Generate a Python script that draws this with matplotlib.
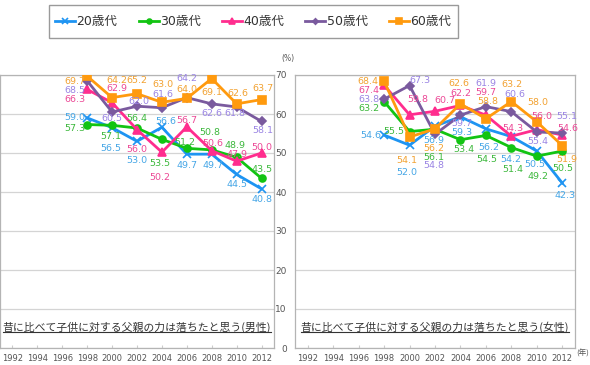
import matplotlib
matplotlib.use("Agg")
import matplotlib.pyplot as plt
from matplotlib.patches import Rectangle
from matplotlib.lines import Line2D

plt.rcParams['font.family'] = ['DejaVu Sans', 'Noto Sans CJK JP']

years = [1998, 2000, 2002, 2004, 2006, 2008, 2010, 2012]
groups = ['20歳代', '30歳代', '40歳代', '50歳代', '60歳代']

# 男性
male = {
    '20歳代': [59.0, 56.5, 53.0, 56.6, 49.7, 49.7, 44.5, 40.8],
    '30歳代': [57.3, 57.1, 56.4, 53.5, 51.2, 50.8, 48.9, 43.5],
    '40歳代': [66.3, 62.9, 56.0, 50.2, 56.7, 50.6, 47.9, 50.0],
    '50歳代': [68.5, 60.5, 62.0, 61.6, 64.2, 62.6, 61.8, 58.1],
    '60歳代': [69.7, 64.2, 65.2, 63.0, 64.0, 69.1, 62.6, 63.7],
}
# 女性
female = {
    '20歳代': [54.6, 52.0, 56.9, 59.3, 56.2, 54.2, 50.5, 42.3],
    '30歳代': [63.2, 55.5, 56.1, 53.4, 54.5, 51.4, 49.2, 50.5],
    '40歳代': [67.4, 59.8, 60.7, 62.2, 59.7, 54.3, 56.0, 54.6],
    '50歳代': [63.8, 67.3, 54.8, 59.7, 61.9, 60.6, 55.4, 55.1],
    '60歳代': [68.4, 54.1, 56.2, 62.6, 58.8, 63.2, 58.0, 51.9],
}

# label offsets in pixels (layout only)
male_off = {
    '20歳代': [(-12, 0), (-1, -21), (0, -19), (4, 6), (0, -11), (1, -11), (0, -10), (0, -11)],
    '30歳代': [(-12, -4), (-1, -11), (0, 10), (-2, -24), (-2, 6), (-2, 17), (-2, 12), (1, 9)],
    '40歳代': [(-12, -10), (5, 14), (0, -20), (-2, -25), (0, 6), (1, 7), (0, 7), (0, 5)],
    '50歳代': [(-12, -10), (0, -6), (2, 5), (1, 13), (0, 19), (0, -10), (-2, -7), (1, -9)],
    '60歳代': [(-12, -5), (5, 17), (0, 13), (1, 18), (0, 9), (0, -14), (1, 10), (1, 11)],
}
female_off = {
    '20歳代': [(-13, 0), (-3, -27), (-1, -14), (1, -16), (3, -19), (-1, -23), (-2, -13), (3, -12)],
    '30歳代': [(-15, -7), (-16, 0), (-1, -28), (3, -10), (1, -24), (1, -22), (1, -20), (1, -17)],
    '40歳代': [(-15, -5), (8, 15), (10, 11), (0, 12), (0, 23), (1, 8), (5, 13), (6, 7)],
    '50歳代': [(-15, 0), (10, 5), (-1, -31), (1, -8), (0, 23), (4, 17), (1, -10), (5, 17)],
    '60歳代': [(-16, 0), (-3, -23), (-1, -20), (-2, 20), (2, 17), (1, 17), (1, 19), (5, -14)],
}

line_colors = {'20歳代': '#1E94F2', '30歳代': '#12C412', '40歳代': '#FF2D8E',
               '50歳代': '#7A5A9E', '60歳代': '#FF9A0E'}
label_colors = {'20歳代': '#45A6E6', '30歳代': '#3CB83C', '40歳代': '#EC4896',
                '50歳代': '#9A84E4', '60歳代': '#F2A232'}
markers = {'20歳代': ('x', 6), '30歳代': ('o', 5), '40歳代': ('^', 6),
           '50歳代': ('D', 4), '60歳代': ('s', 6)}

W, H = 590, 365
fig = plt.figure(figsize=(W / 100, H / 100), dpi=100)

def px(x0, y0, x1, y1):
    return [x0 / W, 1 - y1 / H, (x1 - x0) / W, (y1 - y0) / H]

ax1 = fig.add_axes(px(0, 75, 274, 348))
ax2 = fig.add_axes(px(295, 75, 575, 348))

def draw(ax, data, offs, title):
    ax.set_xlim(1991, 2013)
    ax.set_ylim(0, 70)
    ax.set_yticks(range(0, 71, 10))
    ax.set_xticks(range(1992, 2013, 2))
    ax.grid(axis='y', color='#D4D4D4', linewidth=0.9)
    ax.set_axisbelow(True)
    for s in ax.spines.values():
        s.set_color('#B4B4B4')
        s.set_linewidth(0.9)
    ax.tick_params(axis='x', labelsize=6, colors='#555555', length=2, direction='in', pad=4)
    ax.tick_params(axis='x', color='#CCCCCC')
    for g in groups:
        m, ms = markers[g]
        ax.plot(years, data[g], color=line_colors[g], linewidth=2, marker=m,
                markersize=ms, markeredgewidth=1.2, label=g, zorder=3)
        for x, v, (dx, dy) in zip(years, data[g], offs[g]):
            ax.annotate(f'{v:.1f}', (x, v), xytext=(dx, dy), textcoords='offset pixels',
                        ha='center', va='center', fontsize=6.8, color=label_colors[g], zorder=4)
    t = ax.text(0.5, 0.075, title, transform=ax.transAxes, ha='center', va='center',
                fontsize=7.8, color='#333333', family=['Noto Sans CJK JP', 'DejaVu Sans'])
    return t

t1 = draw(ax1, male, male_off, '昔に比べて子供に対する父親の力は落ちたと思う(男性)')
t2 = draw(ax2, female, female_off, '昔に比べて子供に対する父親の力は落ちたと思う(女性)')

ax1.tick_params(axis='y', left=False, labelleft=False)
ax2.tick_params(axis='y', length=0, labelsize=6.5, colors='#555555', pad=6)

fig.text(288 / W, 1 - 58 / H, '(%)', fontsize=5.5, color='#555555', ha='center', va='center')
fig.text(583 / W, 1 - 354 / H, '(年)', fontsize=5.5, color='#555555', ha='center', va='center',
         family=['Noto Sans CJK JP', 'DejaVu Sans'])

# underline the titles
fig.canvas.draw()
for t in (t1, t2):
    bb = t.get_window_extent()
    y = bb.y0 + 1
    fig.add_artist(Line2D([bb.x0 / W, bb.x1 / W], [y / H, y / H], color='#333333',
                          linewidth=0.8, transform=fig.transFigure))

# legend
fig.add_artist(Rectangle((49 / W, 1 - 38 / H), (458 - 49) / W, 33 / H, transform=fig.transFigure,
                         facecolor='white', edgecolor='#9A9A9A', linewidth=1))
handles, labels = ax1.get_legend_handles_labels()
leg = fig.legend(handles, labels, loc='center', bbox_to_anchor=(253 / W, 1 - 21.5 / H),
                 ncol=5, frameon=False, fontsize=9, handlelength=1.6, handletextpad=0.1,
                 columnspacing=1.7, markerscale=0.7)
for txt in leg.get_texts():
    txt.set_color('#333333')

fig.savefig('out.png', dpi=100)
